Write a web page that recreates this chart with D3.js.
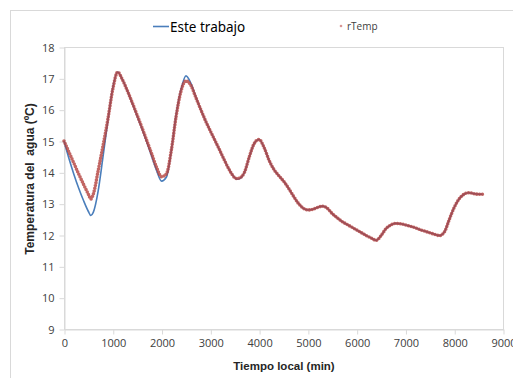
<!DOCTYPE html>
<html><head><meta charset="utf-8">
<script src="https://cdn.jsdelivr.net/npm/d3@7"></script>
<style>body{margin:0;background:#fff}svg{display:block}</style>
</head><body>
<script>
const timeMin = [0,100,200,300,400,500,550,600,700,800,900,1000,1100,1200,1300,1400,1500,1600,1700,1800,1900,2000,2100,2200,2300,2400,2500,2600,2700,2800,2900,3000,3100,3200,3300,3400,3500,3550,3600,3700,3800,3900,4000,4100,4200,4300,4400,4500,4600,4700,4800,4900,5000,5100,5200,5300,5400,5500,5600,5700,5800,5900,6000,6100,6200,6300,6400,6500,6600,6700,6800,6900,7000,7100,7200,7300,7400,7500,7600,7700,7800,7900,8000,8100,8200,8300,8400,8500,8580];
const esteTrabajo = [15.0,14.45,13.95,13.5,13.1,12.75,12.62,12.72,13.4,14.5,15.65,16.7,17.2,16.95,16.6,16.2,15.8,15.38,14.95,14.5,14.05,13.72,13.85,14.7,15.85,16.65,17.08,16.85,16.42,16.02,15.65,15.32,15.0,14.68,14.35,14.05,13.83,13.78,13.8,14.0,14.5,14.92,15.05,14.8,14.4,14.1,13.9,13.72,13.5,13.25,13.02,12.86,12.8,12.82,12.88,12.92,12.85,12.68,12.55,12.43,12.34,12.25,12.16,12.07,11.98,11.9,11.83,11.98,12.2,12.32,12.37,12.36,12.32,12.28,12.23,12.17,12.12,12.07,12.02,11.98,12.1,12.5,12.88,13.15,13.3,13.35,13.32,13.3,13.3];
const rTemp = [15.0,14.65,14.3,13.95,13.62,13.3,13.15,13.3,14.05,14.85,15.7,16.65,17.2,16.95,16.6,16.22,15.82,15.42,15.0,14.58,14.15,13.86,13.95,14.7,15.8,16.6,16.92,16.78,16.4,16.02,15.65,15.32,15.0,14.68,14.35,14.05,13.83,13.8,13.82,14.0,14.5,14.92,15.05,14.8,14.4,14.1,13.9,13.72,13.5,13.25,13.02,12.86,12.8,12.82,12.88,12.92,12.85,12.68,12.55,12.43,12.34,12.25,12.16,12.07,11.98,11.9,11.83,11.98,12.2,12.32,12.37,12.36,12.32,12.28,12.23,12.17,12.12,12.07,12.02,11.98,12.1,12.5,12.88,13.15,13.3,13.35,13.32,13.3,13.3];
const xTicks = [0,1000,2000,3000,4000,5000,6000,7000,8000,9000];
const yTicks = [9,10,11,12,13,14,15,16,17,18];
const seriesNames = ["Este trabajo","rTemp"];
const xTitle = "Tiempo local (min)";
const yTitle = "Temperatura del  agua (ºC)";

(function(){
const W = 513, H = 378;
const svg = d3.select("body").append("svg").attr("width", W).attr("height", H);
const pL = 64, pR = 503, pT = 47, pB = 329;
const x = d3.scaleLinear().domain([0, 9000]).range([pL, pR]);
const y = d3.scaleLinear().domain([9, 18]).range([pB, pT]);

svg.append("rect").attr("x", 10.5).attr("y", 10.5).attr("width", 520).attr("height", 380)
  .attr("fill", "none").attr("stroke", "#d9d9d9");

svg.append("rect").attr("x", pL + 0.5).attr("y", pT + 0.5).attr("width", pR - pL).attr("height", pB - pT)
  .attr("fill", "none").attr("stroke", "#d9d9d9");

const fontTick = "'Open Sans', sans-serif";
const xAxis = svg.append("g").attr("transform", `translate(0.5,${pB + 0.5})`)
  .call(d3.axisBottom(x).tickValues(xTicks).tickSize(5).tickSizeOuter(0).tickFormat(d3.format("d")));
const yAxis = svg.append("g").attr("transform", `translate(${pL + 0.5},0.5)`)
  .call(d3.axisLeft(y).tickValues(yTicks).tickSize(5).tickSizeOuter(0).tickFormat(d3.format("d")));
[xAxis, yAxis].forEach(g => {
  g.select(".domain").attr("stroke", "#d9d9d9");
  g.selectAll(".tick line").attr("stroke", "#d9d9d9");
  g.selectAll(".tick text").attr("fill", "#404040").style("font-family", fontTick).style("font-size", "11px");
});
xAxis.selectAll(".tick text").attr("dy", "0.71em").attr("y", 10);
yAxis.selectAll(".tick text").attr("x", -10);

const pts = timeMin.map((t, i) => ({t, a: esteTrabajo[i], b: rTemp[i]}));
const lineA = d3.line().x(d => x(d.t)).y(d => y(d.a)).curve(d3.curveMonotoneX);
const lineB = d3.line().x(d => x(d.t)).y(d => y(d.b)).curve(d3.curveMonotoneX);

svg.append("path").attr("d", lineA(pts)).attr("fill", "none").attr("stroke", "#4a7ebb").attr("stroke-width", 1.6);
svg.append("path").attr("d", lineB(pts)).attr("fill", "none").attr("stroke", "#b3403c")
  .attr("stroke-width", 3.6).attr("stroke-linecap", "round").attr("stroke-dasharray", "0,2.8")
  .attr("stroke-opacity", 0.8);

svg.append("line").attr("x1", 153).attr("x2", 169).attr("y1", 26.5).attr("y2", 26.5)
  .attr("stroke", "#4a7ebb").attr("stroke-width", 1.6);
svg.append("text").attr("x", 170).attr("y", 32).text(seriesNames[0])
  .style("font-family", "'Noto Sans', sans-serif").style("font-size", "13.5px").attr("fill", "#000");
svg.append("circle").attr("cx", 341).attr("cy", 26).attr("r", 1.3).attr("fill", "#c0504d").attr("opacity", 0.6);
svg.append("text").attr("x", 347).attr("y", 30).text(seriesNames[1])
  .style("font-family", fontTick).style("font-size", "10px").attr("fill", "#404040");

svg.append("text").attr("x", 284).attr("y", 370).attr("text-anchor", "middle").text(xTitle)
  .style("font-family", "'Liberation Sans', Arial, sans-serif").style("font-weight", "bold").style("font-size", "11.5px").attr("fill", "#262626");
svg.append("text").attr("transform", "translate(34,179) rotate(-90)").attr("text-anchor", "middle").text(yTitle)
  .style("white-space", "pre")
  .style("font-family", "'Liberation Sans', Arial, sans-serif").style("font-weight", "bold").style("font-size", "12px").attr("fill", "#262626");
})();
</script>
</body></html>
